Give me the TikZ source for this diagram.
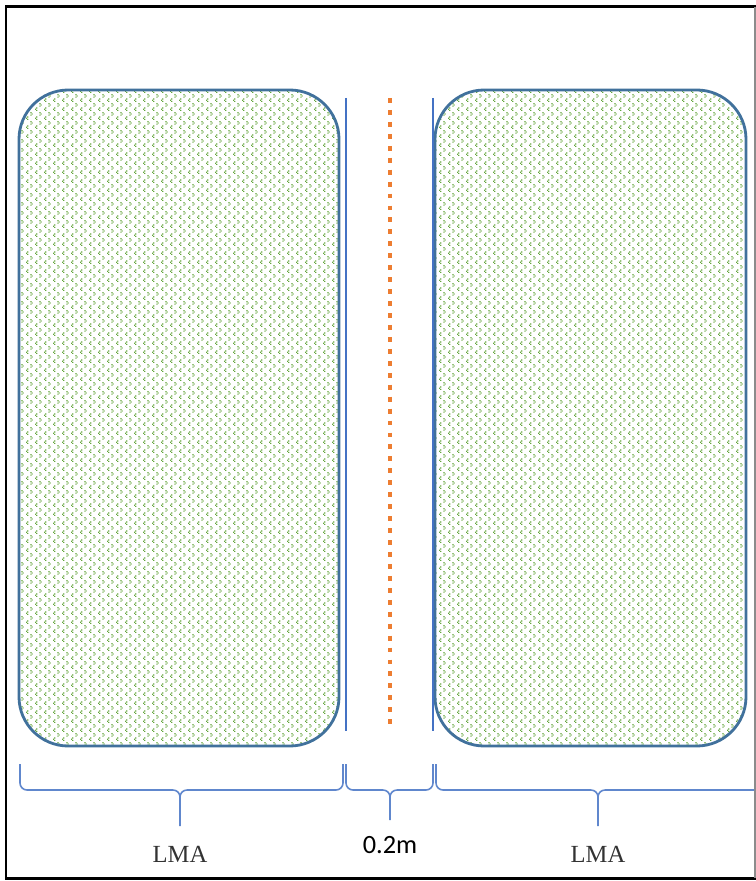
\documentclass[tikz,border=0pt]{standalone}
\usepackage{fontspec}
\setmainfont{Liberation Serif}
\newfontfamily\calfont{Carlito}
\usetikzlibrary{patterns.meta,positioning,calc}
\definecolor{lmaedge}{RGB}{65,113,156}
\definecolor{lmagreen}{RGB}{100,165,60}
\definecolor{gapblue}{RGB}{68,114,196}
\definecolor{axisorange}{RGB}{237,125,49}

\tikzdeclarepattern{
  name=lmadots, type=uncolored,
  bounding box={(0,0) and (5pt,5pt)},
  tile size={(5pt,5pt)},
  code={
    \fill (0.7pt,0pt) rectangle ++(0.7pt,0.7pt);
    \fill (0pt,0.7pt) rectangle ++(0.7pt,0.7pt);
    \fill (0.7pt,1.4pt) rectangle ++(0.7pt,0.7pt);
    \fill (2.5pt,2.5pt) rectangle ++(0.7pt,0.7pt);
    \fill (3.2pt,3.2pt) rectangle ++(0.7pt,0.7pt);
    \fill (2.5pt,3.9pt) rectangle ++(0.7pt,0.7pt);
  }}

\begin{document}
\begin{tikzpicture}[x=0.02cm,y=-0.02cm,
  lma/.style={draw=lmaedge,line width=1.6pt,rounded corners=28pt,
    pattern={lmadots},pattern color=lmagreen},
  edge/.style={gapblue,line width=0.9pt},
  axis/.style={axisorange,line width=2.8pt,dash pattern=on 2.8pt off 4pt},
  br/.style={gapblue!85,line width=0.9pt},
  lab/.style={font=\fontsize{14}{16}\selectfont,text=black!80}]
  \useasboundingbox (0,0) rectangle (756,881);
  % frame
  \draw[line width=1.7pt] (757,7) -- (6,7) -- (6,878) -- (757,878);
  \draw[black!45,line width=0.6pt] (755,7) -- (755,878);
  % the two planted strips
  \draw[lma] (19,90) rectangle (339,746);
  \draw[lma] (435,90) rectangle (746,746);
  % strip edges and middle line
  \coordinate (eL1) at (346,98); \coordinate (eL2) at (346,731);
  \coordinate (eR1) at (433,98); \coordinate (eR2) at (433,731);
  \coordinate (c1) at (390,98); \coordinate (c2) at (390,731);
  \draw[edge] (eL1) -- (eL2);
  \draw[edge] (eR1) -- (eR2);
  \draw[axis] (c1) -- (c2);
  % braces
  \begin{scope}
    \clip (8,740) rectangle (754,876);
    \foreach \a/\b/\m/\d/\n in {20/343/180/826/bL,346/433/390/820/bM,436/762/598/826/bR} {
      \draw[br] (\a,764) -- (\a,783) to[out=-90,in=180] (\a+7,790)
        -- (\m-7,790) to[out=0,in=90] (\m,797) -- (\m,\d);
      \draw[br] (\m,797) to[out=90,in=180] (\m+7,790)
        -- (\b-7,790) to[out=0,in=-90] (\b,783) -- (\b,764);
      \coordinate (\n) at (\m,\d);
    }
  \end{scope}
  \node[lab,below=8pt of bL] (tL) {LMA};
  \node[lab,font=\calfont\fontsize{15}{17}\selectfont,text=black,below=6pt of bM] (tM) {0.2m};
  \node[lab,below=8pt of bR] (tR) {LMA};
\end{tikzpicture}
\end{document}
